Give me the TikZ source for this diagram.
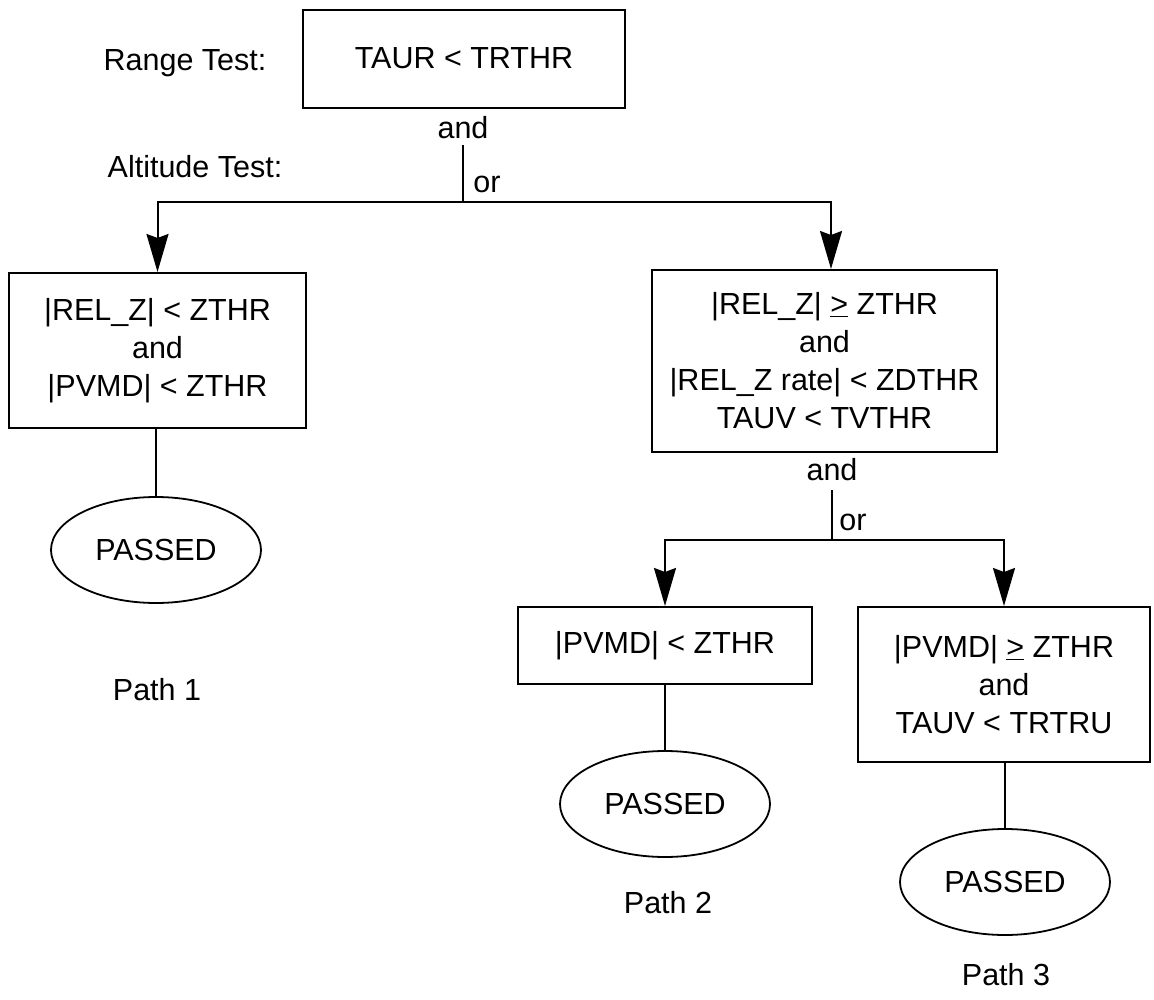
\documentclass[tikz,border=0pt]{standalone}
\usepackage{fontspec}
\setmainfont{Liberation Sans}
\usetikzlibrary{arrows.meta,shapes.geometric,calc}
\begin{document}
\begin{tikzpicture}[x=1pt,y=-1pt,
  every node/.style={inner sep=0pt, font=\fontsize{30.5}{38}\selectfont},
  box/.style={draw, line width=2pt, rectangle, align=center},
  oval/.style={draw, line width=1.8pt, ellipse, minimum width=210pt, minimum height=106pt},
  conn/.style={line width=2pt},
  arr/.style={line width=2pt, -{Stealth[length=38pt,width=22pt,inset=4pt]}}]
\useasboundingbox (0,0) rectangle (1154,1000);
% boxes
\node[box, minimum width=322pt, minimum height=98pt, text depth=2pt] (top) at (464,59) {TAUR < TRTHR};
\node[box, minimum width=297pt, minimum height=155pt] (left) at (157.5,350.5) {|REL\_Z| < ZTHR\\and\\|PVMD| < ZTHR};
\node[box, minimum width=345pt, minimum height=182pt] (right) at (824.5,361) {|REL\_Z| \underline{>} ZTHR\\and\\|REL\_Z rate| < ZDTHR\\TAUV < TVTHR};
\node[box, minimum width=294pt, minimum height=77pt] (mid) at (665,645.5) {|PVMD| < ZTHR};
\node[box, minimum width=292pt, minimum height=155pt] (rb) at (1004,684.5) {|PVMD| \underline{>} ZTHR\\and\\TAUV < TRTRU};
% ellipses
\node[oval] (e1) at (156,550) {PASSED};
\node[oval] (e2) at (665,804) {PASSED};
\node[oval] (e3) at (1005,882) {PASSED};
% labels
\node (rt) at (185,63) {Range Test:};
\node (at) at (195,167) {Altitude Test:};
\node (and1) at (463,128) {and};
\node (or1) at (487,184) {or};
\node (and2) at (832,470) {and};
\node (or2) at (853,522) {or};
\node (p1) at (157,690) {Path 1};
\node (p2) at (668,903) {Path 2};
\node (p3) at (1006,975) {Path 3};
% connectors
\coordinate (s1) at (463,145);
\coordinate (j1) at (463,202);
\coordinate (ra) at (831,202);
\draw[conn] (s1) -- (j1);
\draw[arr] (j1) -| (left.north);
\draw[arr] (j1) -| (ra |- right.north);
\coordinate (s2) at (832,490);
\coordinate (j2) at (832,540);
\draw[conn] (s2) -- (j2);
\draw[arr] (j2) -| (mid.north);
\draw[arr] (j2) -| (rb.north);
\draw[conn] (e1 |- left.south) -- (e1.north);
\draw[conn] (mid.south) -- (e2.north);
\draw[conn] (e3 |- rb.south) -- (e3.north);
\end{tikzpicture}
\end{document}
